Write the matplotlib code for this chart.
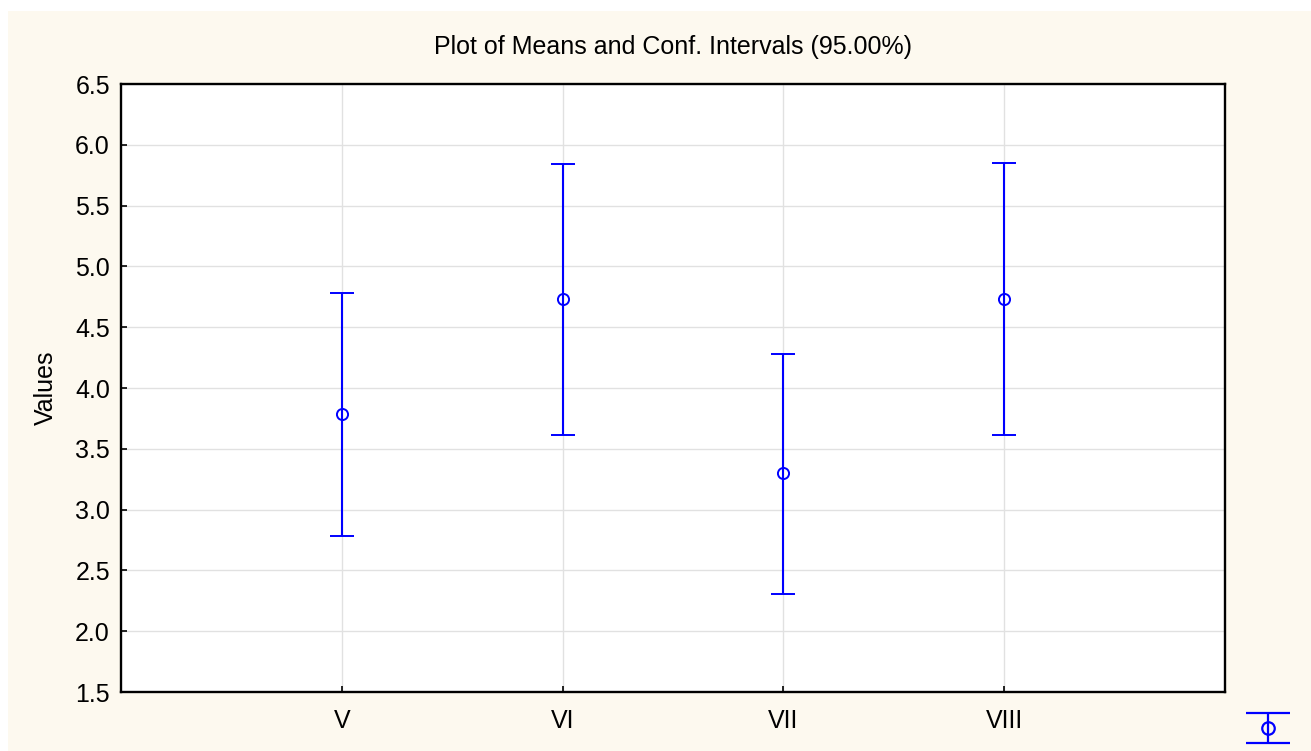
import matplotlib
matplotlib.use("Agg")
import matplotlib.pyplot as plt
from matplotlib.patches import Rectangle
import numpy as np

# Group labels and the summary statistics per group
groups = ["V", "VI", "VII", "VIII"]
means = [3.79, 4.73, 3.30, 4.73]
upper_ci = [4.78, 5.84, 4.28, 5.85]
lower_ci = [2.78, 3.61, 2.31, 3.61]

y_ticks = [1.5, 2.0, 2.5, 3.0, 3.5, 4.0, 4.5, 5.0, 5.5, 6.0, 6.5]

title = "Plot of Means and Conf. Intervals (95.00%)"
y_label = "Values"

BLUE = "#0000FF"
CREAM = "#FDF9EF"
GRID = "#E1E1E1"
FONT = "Liberation Sans"
FS = 18

W, H, DPI = 1311, 751, 100
fig = plt.figure(figsize=(W / DPI, H / DPI), dpi=DPI, facecolor="white")

# cream panel behind the chart, leaving a thin white margin on top and left
fig.patches.append(Rectangle((8 / W, 0), 1, 1 - 11 / H, transform=fig.transFigure,
                             facecolor=CREAM, edgecolor="none", zorder=-10))

ax = fig.add_axes([121 / W, 1 - 692 / H, (1225 - 121) / W, (692 - 84) / H])
ax.set_facecolor("white")

x = np.arange(1, len(groups) + 1)
m = np.array(means)
yerr = np.vstack([m - np.array(lower_ci), np.array(upper_ci) - m])
ax.errorbar(x, m, yerr=yerr, fmt="o", color=BLUE, ecolor=BLUE,
            markerfacecolor="none", markeredgecolor=BLUE, markersize=8,
            markeredgewidth=1.4, elinewidth=1.5, capsize=8.6, capthick=1.5,
            zorder=3)

ax.set_xlim(0, len(groups) + 1)
ax.set_ylim(1.5, 6.5)
ax.set_xticks(x)
ax.set_xticklabels(groups)
ax.set_yticks(y_ticks)
ax.set_yticklabels([f"{v:.1f}" for v in y_ticks])

ax.grid(True, color=GRID, linewidth=1.0, zorder=0)
ax.set_axisbelow(True)
for s in ax.spines.values():
    s.set_linewidth(1.7)
    s.set_color("black")

ax.tick_params(axis="both", direction="in", length=4, width=1.2, color="black",
               labelsize=FS, labelcolor="black")
ax.tick_params(axis="y", pad=8)
ax.tick_params(axis="x", pad=12)
for lab in ax.get_xticklabels() + ax.get_yticklabels():
    lab.set_family(FONT)

ax.set_ylabel(y_label, fontsize=FS, family=FONT, labelpad=12, color="black")
fig.text(0.5 * (121 + 1225) / W, 1 - 47 / H, title, ha="center", va="center",
         fontsize=FS, family=FONT, color="black")

# small legend key for the mean / interval symbol
kax = fig.add_axes([1244 / W, 1 - 745 / H, 48 / W, 34 / H])
kax.set_axis_off()
kax.errorbar([0], [0], yerr=[[1], [1]], fmt="o", color=BLUE,
             markerfacecolor="none", markeredgecolor=BLUE, markersize=9,
             markeredgewidth=1.6, elinewidth=1.6, capsize=16, capthick=1.6)
kax.set_xlim(-1, 1)
kax.set_ylim(-1.1, 1.1)

fig.savefig("out.png", dpi=DPI, facecolor=fig.get_facecolor())
